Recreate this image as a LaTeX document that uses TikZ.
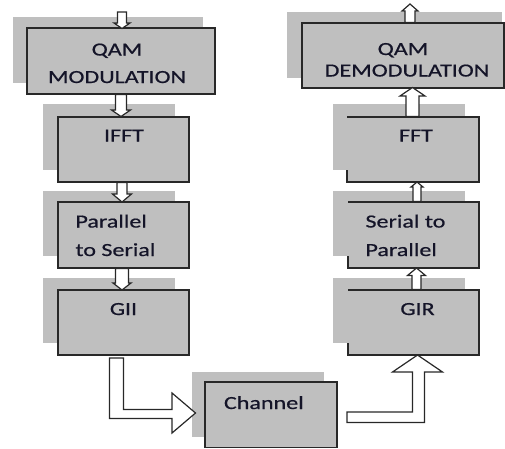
\documentclass[tikz,border=0pt]{standalone}
\usepackage{fontspec}
\setmainfont[FakeStretch=1.3,FakeBold=0.6]{Carlito}
\definecolor{boxgrey}{RGB}{191,191,191}
\definecolor{edge}{RGB}{40,40,40}
\definecolor{txt}{RGB}{20,20,40}
\newcommand\blockarrowv[6]{\draw[blockarrow] ({#1-#5},#2) -- ({#1-#5},#3) -- ({#1-#6},#3) -- (#1,#4) -- ({#1+#6},#3) -- ({#1+#5},#3) -- ({#1+#5},#2) -- cycle;}
\begin{document}
\begin{tikzpicture}[x=1pt,y=-1pt,
  shadowbox/.style={fill=boxgrey, draw=none, inner sep=0pt, outer sep=0pt, anchor=north west},
  mainbox/.style={fill=boxgrey, draw=edge, line width=1.2pt, inner sep=0pt, outer sep=0pt, anchor=north west},
  mainfill/.style={fill=boxgrey, draw=none, inner sep=0pt, outer sep=0pt, anchor=north west},
  edgeline/.style={draw=edge, line width=1.2pt},
  lbl/.style={text=txt, font=\fontsize{18.5}{22}\selectfont, inner sep=0pt, outer sep=0pt},
  blockarrow/.style={draw=edge, fill=white, line width=1.2pt, line join=miter}]
\fill[white] (0,0) rectangle (505,448);
\useasboundingbox (0,0) rectangle (505,448);
% left column
\node[shadowbox, minimum width=190pt, minimum height=66pt] (qmS) at (13,17) {};
\node[mainbox, minimum width=188pt, minimum height=66pt] (qm) at (27,28) {};
\node[shadowbox, minimum width=132pt, minimum height=66pt] (ifftS) at (43,104) {};
\node[mainbox, minimum width=131pt, minimum height=65pt] (ifft) at (58,117) {};
\node[shadowbox, minimum width=132pt, minimum height=65pt] (psS) at (43,191) {};
\node[mainbox, minimum width=131pt, minimum height=66pt] (ps) at (58,202) {};
\node[shadowbox, minimum width=132pt, minimum height=65pt] (giiS) at (43,278) {};
\node[mainbox, minimum width=131pt, minimum height=65pt] (gii) at (58,290) {};
% channel
\node[shadowbox, minimum width=132pt, minimum height=65pt] (chS) at (192,372) {};
\node[mainbox, minimum width=132pt, minimum height=65.5pt] (ch) at (205,382) {};
% right column
\node[shadowbox, minimum width=215pt, minimum height=66pt] (qdS) at (287,12) {};
\node[mainbox, minimum width=202pt, minimum height=65pt] (qd) at (302,23) {};
\node[shadowbox, minimum width=132pt, minimum height=66pt] (fftS) at (333,104) {};
\node[mainfill, minimum width=132pt, minimum height=65pt] (fft) at (347,117) {};
\draw[edgeline] (fft.north west) -- (fft.north east) -- (fft.south east) -- (fft.south west) -- (fft.south west |- fftS.south);
\node[shadowbox, minimum width=132pt, minimum height=65pt] (spS) at (333,191) {};
\node[mainfill, minimum width=131pt, minimum height=66pt] (sp) at (348,202) {};
\draw[edgeline] (sp.north west) -- (sp.north east) -- (sp.south east) -- (sp.south west) -- (sp.south west |- spS.south);
\node[shadowbox, minimum width=132pt, minimum height=65pt] (girS) at (333,278) {};
\node[mainfill, minimum width=131pt, minimum height=65pt] (gir) at (348,290) {};
\draw[edgeline] (gir.north west) -- (gir.north east) -- (gir.south east) -- (gir.south west) -- (gir.south west |- girS.south);
% labels
\node[lbl, anchor=base] (qmA) at (117,55.5) {QAM};
\node[lbl, anchor=base] (qmB) at (117,83) {MODULATION};
\node[lbl, anchor=base] (ifftT) at (124,141.5) {IFFT};
\node[lbl, anchor=base west] (psA) at (75.5,227.5) {Parallel};
\node[lbl, anchor=base west] (psB) at (75.5,256) {to Serial};
\node[lbl, anchor=base] (giiT) at (123.5,315) {GII};
\node[lbl, anchor=base west] (chT) at (224,409) {Channel};
\node[lbl, anchor=base] (qdA) at (403,55) {QAM};
\node[lbl, anchor=base] (qdB) at (407,76.5) {DEMODULATION};
\node[lbl, anchor=base] (fftT) at (416,141.5) {FFT};
\node[lbl, anchor=base west] (spA) at (365.5,227.5) {Serial to};
\node[lbl, anchor=base west] (spB) at (365.5,256) {Parallel};
\node[lbl, anchor=base] (girT) at (417.5,315) {GIR};
% small block arrows
\blockarrowv{122}{12}{23}{28.5}{4.5}{8}
\blockarrowv{121}{94.5}{110}{116.5}{5.5}{9.5}
\blockarrowv{122}{182.5}{194}{202}{5}{9.5}
\blockarrowv{122}{268.5}{283}{290}{6.5}{9}
\blockarrowv{416.5}{289.5}{275.5}{268}{4.5}{9}
\blockarrowv{417}{201.5}{187}{182}{4}{6}
\blockarrowv{412.5}{116.5}{96}{87.5}{6.5}{12.5}
\blockarrowv{410}{22.5}{11}{4}{5}{8}
% bent block arrows
\draw[blockarrow] (109.5,358) -- (123.5,358) -- (123.5,409.5) -- (172,409.5) -- (172,393) -- (195.5,413) -- (172,433) -- (172,418.5) -- (109.5,418.5) -- cycle;
\draw[blockarrow] (347,412) -- (412.5,412) -- (412.5,372) -- (392.5,372) -- (417.5,355) -- (442.5,372) -- (424.5,372) -- (424.5,422.5) -- (347,422.5) -- cycle;
\end{tikzpicture}
\end{document}
